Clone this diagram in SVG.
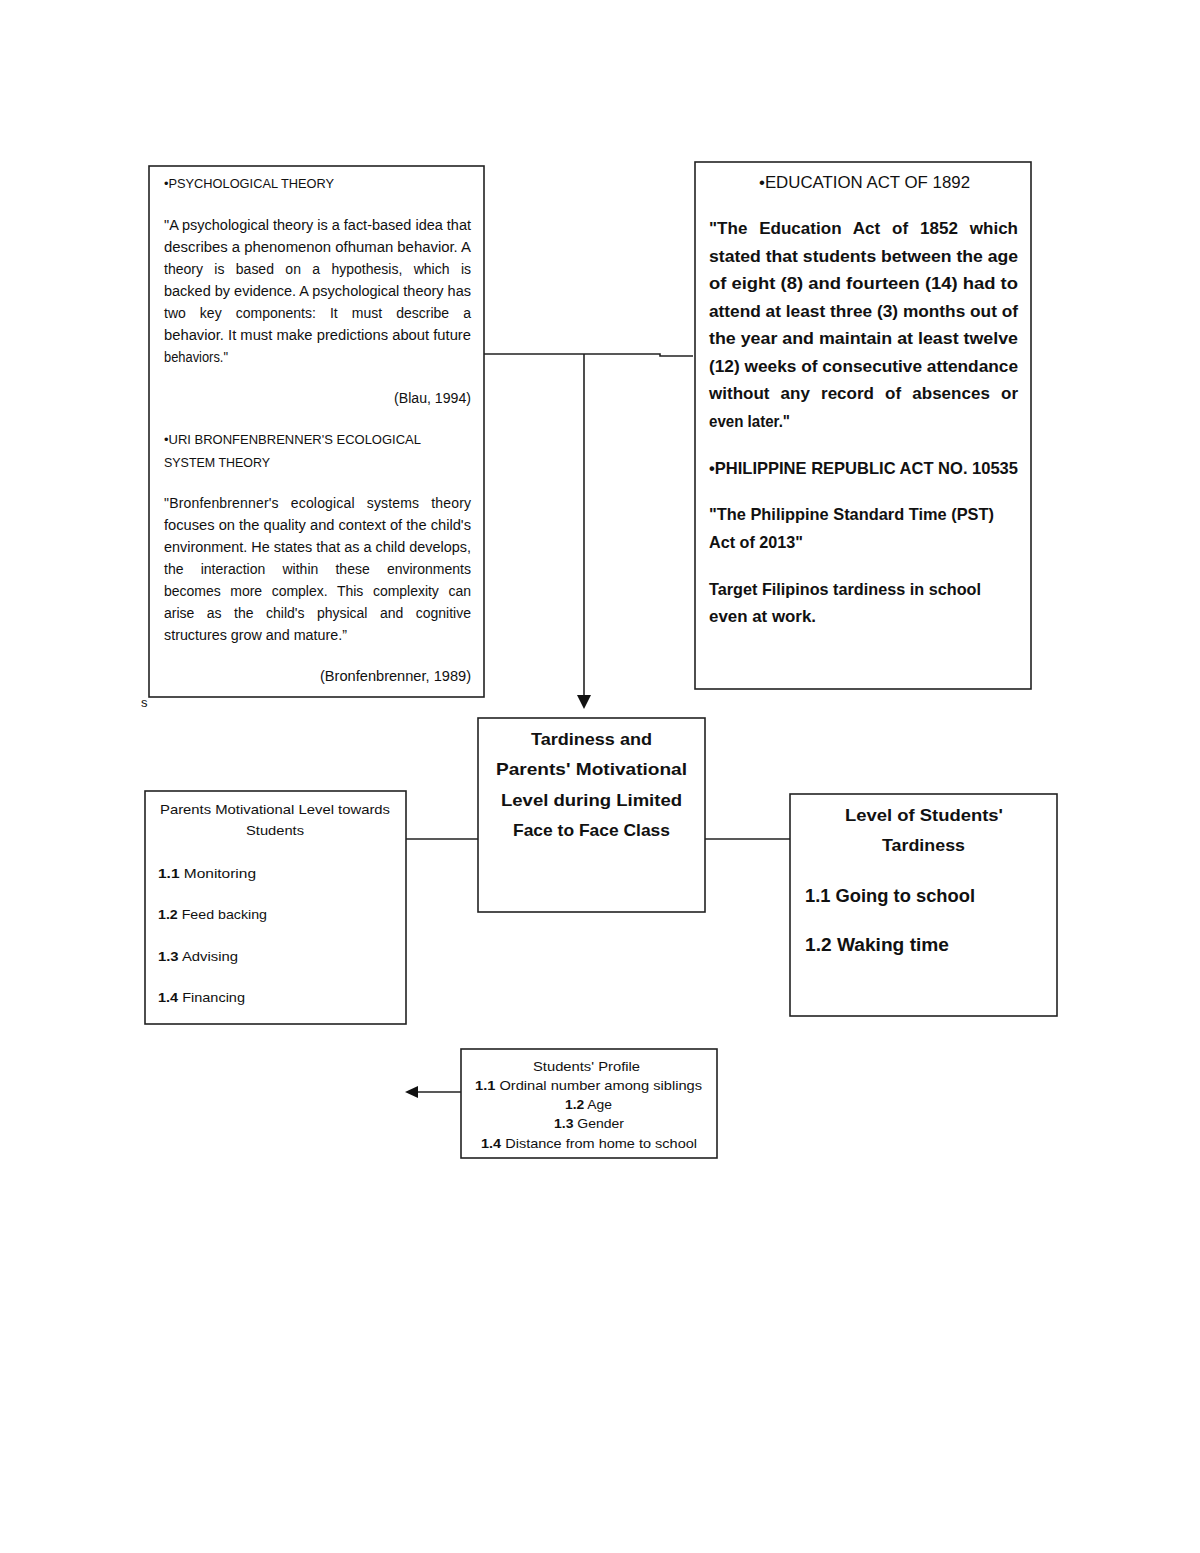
<svg xmlns="http://www.w3.org/2000/svg" width="1200" height="1553" viewBox="0 0 1200 1553">
<style>
text{font-family:"Liberation Sans",Arial,sans-serif;fill:#111}
.box{fill:#fff;stroke:#222;stroke-width:1.6}
.ln{stroke:#222;stroke-width:1.6;fill:none}
.s13{font-size:13px}
.s14{font-size:14px}
.s17{font-size:17px}
.b{font-weight:bold}
</style>
<rect width="1200" height="1553" fill="#fff"/>

<g id="connectors">
<polyline class="ln" points="484,354 660,354 660,356 693,356"/>
<line class="ln" x1="584" y1="354" x2="584" y2="696"/>
<path d="M577,695 L591,695 L584,709 Z" fill="#111"/>
<line class="ln" x1="406" y1="839" x2="478" y2="839"/>
<line class="ln" x1="705" y1="839" x2="790" y2="839"/>
<line class="ln" x1="461" y1="1092" x2="417" y2="1092"/>
<path d="M418,1086 L418,1098 L405,1092 Z" fill="#111"/>
</g>

<g id="psych-theory">
<rect class="box" x="149" y="166" width="335" height="531"/>
<text class="s13" x="164" y="188" textLength="170" lengthAdjust="spacingAndGlyphs">•PSYCHOLOGICAL THEORY</text>
<text class="s14" x="164" y="230" textLength="307" lengthAdjust="spacingAndGlyphs">"A psychological theory is a fact-based idea that</text>
<text class="s14" x="164" y="252" textLength="307" lengthAdjust="spacingAndGlyphs">describes a phenomenon ofhuman behavior. A</text>
<text class="s14" x="164" y="274" word-spacing="7.5" textLength="307" lengthAdjust="spacing">theory is based on a hypothesis, which is</text>
<text class="s14" x="164" y="296" textLength="307" lengthAdjust="spacingAndGlyphs">backed by evidence. A psychological theory has</text>
<text class="s14" x="164" y="318" word-spacing="10.2" textLength="307" lengthAdjust="spacing">two key components: It must describe a</text>
<text class="s14" x="164" y="340" textLength="307" lengthAdjust="spacingAndGlyphs">behavior. It must make predictions about future</text>
<text class="s14" x="164" y="362" textLength="64" lengthAdjust="spacingAndGlyphs">behaviors."</text>
<text class="s14" x="394" y="403" textLength="77" lengthAdjust="spacingAndGlyphs">(Blau, 1994)</text>
<text class="s13" x="164" y="444" textLength="257" lengthAdjust="spacingAndGlyphs">•URI BRONFENBRENNER'S ECOLOGICAL</text>
<text class="s13" x="164" y="467" textLength="106" lengthAdjust="spacingAndGlyphs">SYSTEM THEORY</text>
<text class="s14" x="164" y="508" word-spacing="8" textLength="307" lengthAdjust="spacing">"Bronfenbrenner's ecological systems theory</text>
<text class="s14" x="164" y="530" textLength="307" lengthAdjust="spacingAndGlyphs">focuses on the quality and context of the child's</text>
<text class="s14" x="164" y="552" textLength="307" lengthAdjust="spacingAndGlyphs">environment. He states that as a child develops,</text>
<text class="s14" x="164" y="574" word-spacing="13.3" textLength="307" lengthAdjust="spacing">the interaction within these environments</text>
<text class="s14" x="164" y="596" word-spacing="5.8" textLength="307" lengthAdjust="spacing">becomes more complex. This complexity can</text>
<text class="s14" x="164" y="618" word-spacing="8.6" textLength="307" lengthAdjust="spacing">arise as the child's physical and cognitive</text>
<text class="s14" x="164" y="640" textLength="183" lengthAdjust="spacingAndGlyphs">structures grow and mature.”</text>
<text class="s14" x="320" y="681" textLength="151" lengthAdjust="spacingAndGlyphs">(Bronfenbrenner, 1989)</text>
</g>

<text id="stray-s" class="s13" x="141" y="707">s</text>

<g id="education-act">
<rect class="box" x="695" y="162" width="336" height="527"/>
<text class="s17" x="759" y="188" textLength="211" lengthAdjust="spacingAndGlyphs">•EDUCATION ACT OF 1892</text>
<text class="s17 b" x="709" y="234" word-spacing="7.1" textLength="309" lengthAdjust="spacing">"The Education Act of 1852 which</text>
<text class="s17 b" x="709" y="262" textLength="309" lengthAdjust="spacingAndGlyphs">stated that students between the age</text>
<text class="s17 b" x="709" y="289" textLength="309" lengthAdjust="spacingAndGlyphs">of eight (8) and fourteen (14) had to</text>
<text class="s17 b" x="709" y="317" textLength="309" lengthAdjust="spacingAndGlyphs">attend at least three (3) months out of</text>
<text class="s17 b" x="709" y="344" textLength="309" lengthAdjust="spacingAndGlyphs">the year and maintain at least twelve</text>
<text class="s17 b" x="709" y="372" textLength="309" lengthAdjust="spacingAndGlyphs">(12) weeks of consecutive attendance</text>
<text class="s17 b" x="709" y="399" word-spacing="6.4" textLength="309" lengthAdjust="spacing">without any record of absences or</text>
<text class="s17 b" x="709" y="427" textLength="81" lengthAdjust="spacingAndGlyphs">even later."</text>
<text class="s17 b" x="709" y="474" textLength="309" lengthAdjust="spacingAndGlyphs">•PHILIPPINE REPUBLIC ACT NO. 10535</text>
<text class="s17 b" x="709" y="520" textLength="285" lengthAdjust="spacingAndGlyphs">"The Philippine Standard Time (PST)</text>
<text class="s17 b" x="709" y="548" textLength="94" lengthAdjust="spacingAndGlyphs">Act of 2013"</text>
<text class="s17 b" x="709" y="595" textLength="272" lengthAdjust="spacingAndGlyphs">Target Filipinos tardiness in school</text>
<text class="s17 b" x="709" y="622" textLength="107" lengthAdjust="spacingAndGlyphs">even at work.</text>
</g>

<g id="central-topic">
<rect class="box" x="478" y="718" width="227" height="194"/>
<text class="s17 b" x="531" y="745" textLength="121" lengthAdjust="spacingAndGlyphs">Tardiness and</text>
<text class="s17 b" x="496" y="775" textLength="191" lengthAdjust="spacingAndGlyphs">Parents' Motivational</text>
<text class="s17 b" x="501" y="806" textLength="181" lengthAdjust="spacingAndGlyphs">Level during Limited</text>
<text class="s17 b" x="513" y="836" textLength="157" lengthAdjust="spacingAndGlyphs">Face to Face Class</text>
</g>

<g id="parents-motivation">
<rect class="box" x="145" y="791" width="261" height="233"/>
<text class="s13" x="160" y="814" textLength="230" lengthAdjust="spacingAndGlyphs">Parents Motivational Level towards</text>
<text class="s13" x="246" y="835" textLength="58" lengthAdjust="spacingAndGlyphs">Students</text>
<text class="s13" x="158" y="878" textLength="98" lengthAdjust="spacingAndGlyphs"><tspan class="b">1.1</tspan> Monitoring</text>
<text class="s13" x="158" y="919" textLength="109" lengthAdjust="spacingAndGlyphs"><tspan class="b">1.2</tspan> Feed backing</text>
<text class="s13" x="158" y="961" textLength="80" lengthAdjust="spacingAndGlyphs"><tspan class="b">1.3</tspan> Advising</text>
<text class="s13" x="158" y="1002" textLength="87" lengthAdjust="spacingAndGlyphs"><tspan class="b">1.4</tspan> Financing</text>
</g>

<g id="students-tardiness">
<rect class="box" x="790" y="794" width="267" height="222"/>
<text class="s17 b" x="845" y="821" textLength="158" lengthAdjust="spacingAndGlyphs">Level of Students'</text>
<text class="s17 b" x="882" y="851" textLength="83" lengthAdjust="spacingAndGlyphs">Tardiness</text>
<text class="b" font-size="18" x="805" y="902" textLength="170" lengthAdjust="spacingAndGlyphs">1.1 Going to school</text>
<text class="b" font-size="18" x="805" y="951" textLength="144" lengthAdjust="spacingAndGlyphs">1.2 Waking time</text>
</g>

<g id="students-profile">
<rect class="box" x="461" y="1049" width="256" height="109"/>
<text class="s13" x="533" y="1071" textLength="107" lengthAdjust="spacingAndGlyphs">Students' Profile</text>
<text class="s13" x="475" y="1090" textLength="227" lengthAdjust="spacingAndGlyphs"><tspan class="b">1.1</tspan> Ordinal number among siblings</text>
<text class="s13" x="565" y="1109" textLength="47" lengthAdjust="spacingAndGlyphs"><tspan class="b">1.2</tspan> Age</text>
<text class="s13" x="554" y="1128" textLength="70" lengthAdjust="spacingAndGlyphs"><tspan class="b">1.3</tspan> Gender</text>
<text class="s13" x="481" y="1148" textLength="216" lengthAdjust="spacingAndGlyphs"><tspan class="b">1.4</tspan> Distance from home to school</text>
</g>
</svg>
